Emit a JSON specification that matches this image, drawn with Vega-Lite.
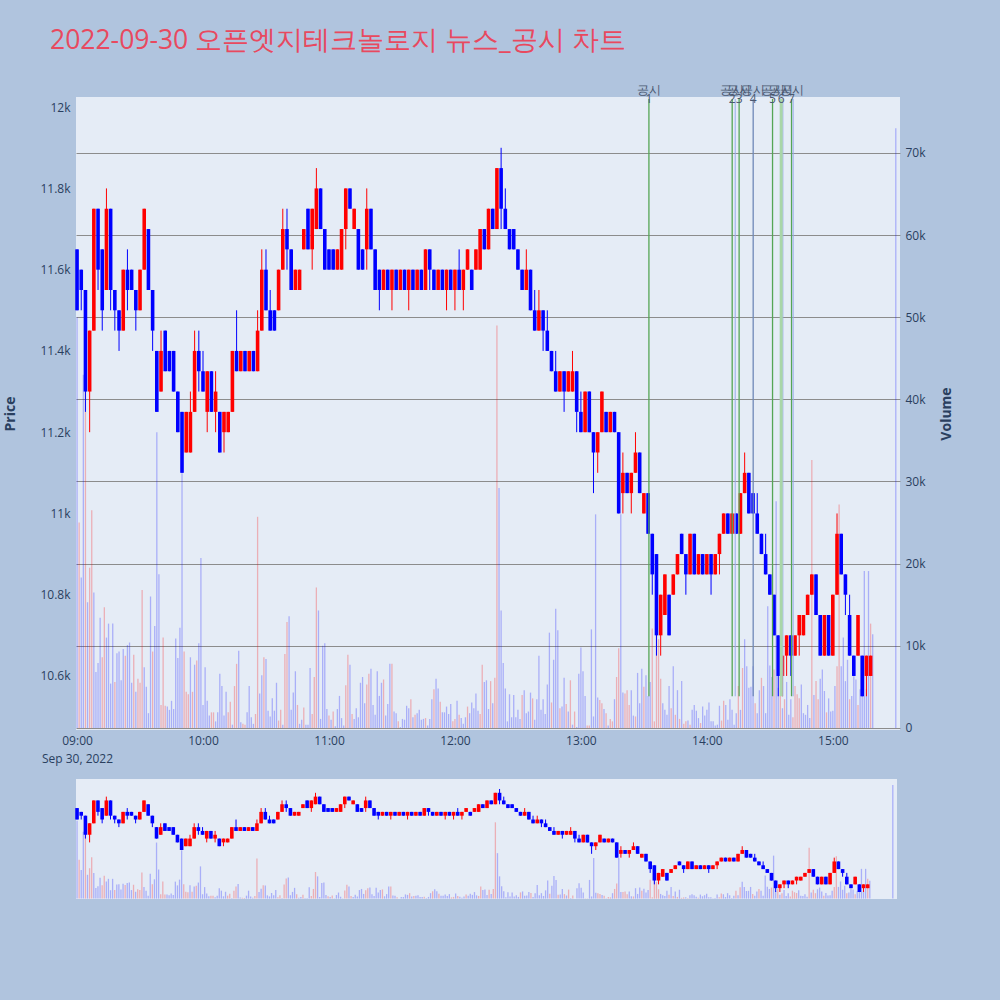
{
"$schema":"https://vega.github.io/schema/vega-lite/v6.json",
"background":"#b0c4de",
"padding":{"left":3,"top":27,"right":47,"bottom":101},
"spacing":15,
"config":{"view":{"stroke":null,"fill":"#e5ecf6"},"axis":{"domain":false,"ticks":false,"labelFont":"Open Sans","labelFontSize":12,"labelColor":"#2a3f5f","titleFont":"Open Sans","titleColor":"#2a3f5f"}},
"resolve":{"scale":{"x":"independent"}},
"datasets":{
"c":[
{"t":"2022-09-30T09:00","o":11650,"h":11650,"l":11500,"c":11500},{"t":"2022-09-30T09:02","o":11600,"h":11600,"l":11500,"c":11550},{"t":"2022-09-30T09:04","o":11550,"h":11550,"l":11250,"c":11300},{"t":"2022-09-30T09:06","o":11300,"h":11450,"l":11200,"c":11450},{"t":"2022-09-30T09:08","o":11450,"h":11750,"l":11450,"c":11750},{"t":"2022-09-30T09:10","o":11750,"h":11750,"l":11550,"c":11600},{"t":"2022-09-30T09:12","o":11650,"h":11650,"l":11450,"c":11500},{"t":"2022-09-30T09:14","o":11550,"h":11800,"l":11550,"c":11750},{"t":"2022-09-30T09:16","o":11750,"h":11750,"l":11500,"c":11550},{"t":"2022-09-30T09:18","o":11550,"h":11550,"l":11450,"c":11500},
{"t":"2022-09-30T09:20","o":11500,"h":11500,"l":11400,"c":11450},{"t":"2022-09-30T09:22","o":11450,"h":11600,"l":11450,"c":11600},{"t":"2022-09-30T09:24","o":11600,"h":11650,"l":11500,"c":11550},{"t":"2022-09-30T09:26","o":11600,"h":11600,"l":11550,"c":11550},{"t":"2022-09-30T09:28","o":11550,"h":11550,"l":11450,"c":11500},{"t":"2022-09-30T09:30","o":11500,"h":11600,"l":11500,"c":11600},{"t":"2022-09-30T09:32","o":11600,"h":11750,"l":11600,"c":11750},{"t":"2022-09-30T09:34","o":11700,"h":11700,"l":11550,"c":11550},{"t":"2022-09-30T09:36","o":11550,"h":11550,"l":11400,"c":11450},{"t":"2022-09-30T09:38","o":11400,"h":11400,"l":11250,"c":11250},
{"t":"2022-09-30T09:40","o":11300,"h":11450,"l":11300,"c":11400},{"t":"2022-09-30T09:42","o":11450,"h":11450,"l":11350,"c":11350},{"t":"2022-09-30T09:44","o":11400,"h":11400,"l":11350,"c":11350},{"t":"2022-09-30T09:46","o":11400,"h":11400,"l":11300,"c":11300},{"t":"2022-09-30T09:48","o":11300,"h":11300,"l":11200,"c":11200},{"t":"2022-09-30T09:50","o":11250,"h":11250,"l":11100,"c":11100},{"t":"2022-09-30T09:52","o":11150,"h":11250,"l":11150,"c":11250},{"t":"2022-09-30T09:54","o":11150,"h":11300,"l":11150,"c":11250},{"t":"2022-09-30T09:56","o":11250,"h":11450,"l":11250,"c":11400},{"t":"2022-09-30T09:58","o":11400,"h":11450,"l":11300,"c":11350},
{"t":"2022-09-30T10:00","o":11350,"h":11400,"l":11300,"c":11300},{"t":"2022-09-30T10:02","o":11250,"h":11350,"l":11200,"c":11350},{"t":"2022-09-30T10:04","o":11350,"h":11350,"l":11250,"c":11250},{"t":"2022-09-30T10:06","o":11250,"h":11350,"l":11200,"c":11300},{"t":"2022-09-30T10:08","o":11250,"h":11250,"l":11150,"c":11150},{"t":"2022-09-30T10:10","o":11200,"h":11250,"l":11150,"c":11250},{"t":"2022-09-30T10:12","o":11200,"h":11250,"l":11200,"c":11250},{"t":"2022-09-30T10:14","o":11250,"h":11400,"l":11250,"c":11400},{"t":"2022-09-30T10:16","o":11400,"h":11500,"l":11350,"c":11350},{"t":"2022-09-30T10:18","o":11350,"h":11400,"l":11350,"c":11400},
{"t":"2022-09-30T10:20","o":11400,"h":11400,"l":11350,"c":11350},{"t":"2022-09-30T10:22","o":11350,"h":11400,"l":11350,"c":11400},{"t":"2022-09-30T10:24","o":11400,"h":11400,"l":11350,"c":11350},{"t":"2022-09-30T10:26","o":11350,"h":11500,"l":11350,"c":11450},{"t":"2022-09-30T10:28","o":11450,"h":11650,"l":11450,"c":11600},{"t":"2022-09-30T10:30","o":11600,"h":11650,"l":11500,"c":11500},{"t":"2022-09-30T10:32","o":11500,"h":11550,"l":11450,"c":11450},{"t":"2022-09-30T10:34","o":11500,"h":11500,"l":11450,"c":11450},{"t":"2022-09-30T10:36","o":11500,"h":11600,"l":11500,"c":11600},{"t":"2022-09-30T10:38","o":11600,"h":11750,"l":11600,"c":11700},
{"t":"2022-09-30T10:40","o":11700,"h":11750,"l":11600,"c":11650},{"t":"2022-09-30T10:42","o":11650,"h":11650,"l":11550,"c":11550},{"t":"2022-09-30T10:44","o":11550,"h":11600,"l":11550,"c":11600},{"t":"2022-09-30T10:46","o":11550,"h":11600,"l":11550,"c":11600},{"t":"2022-09-30T10:48","o":11650,"h":11700,"l":11650,"c":11700},{"t":"2022-09-30T10:50","o":11750,"h":11750,"l":11650,"c":11650},{"t":"2022-09-30T10:52","o":11650,"h":11750,"l":11600,"c":11750},{"t":"2022-09-30T10:54","o":11700,"h":11850,"l":11700,"c":11800},{"t":"2022-09-30T10:56","o":11800,"h":11800,"l":11700,"c":11700},{"t":"2022-09-30T10:58","o":11700,"h":11700,"l":11600,"c":11600},
{"t":"2022-09-30T11:00","o":11650,"h":11650,"l":11600,"c":11600},{"t":"2022-09-30T11:02","o":11650,"h":11650,"l":11600,"c":11600},{"t":"2022-09-30T11:04","o":11600,"h":11650,"l":11600,"c":11650},{"t":"2022-09-30T11:06","o":11600,"h":11700,"l":11600,"c":11700},{"t":"2022-09-30T11:08","o":11700,"h":11800,"l":11650,"c":11800},{"t":"2022-09-30T11:10","o":11800,"h":11800,"l":11750,"c":11750},{"t":"2022-09-30T11:12","o":11700,"h":11750,"l":11700,"c":11750},{"t":"2022-09-30T11:14","o":11700,"h":11700,"l":11600,"c":11600},{"t":"2022-09-30T11:16","o":11650,"h":11650,"l":11600,"c":11600},{"t":"2022-09-30T11:18","o":11650,"h":11800,"l":11600,"c":11750},
{"t":"2022-09-30T11:20","o":11750,"h":11750,"l":11650,"c":11650},{"t":"2022-09-30T11:22","o":11650,"h":11650,"l":11550,"c":11550},{"t":"2022-09-30T11:24","o":11600,"h":11600,"l":11500,"c":11550},{"t":"2022-09-30T11:26","o":11550,"h":11600,"l":11550,"c":11600},{"t":"2022-09-30T11:28","o":11600,"h":11600,"l":11550,"c":11550},{"t":"2022-09-30T11:30","o":11550,"h":11600,"l":11500,"c":11600},{"t":"2022-09-30T11:32","o":11600,"h":11600,"l":11550,"c":11550},{"t":"2022-09-30T11:34","o":11550,"h":11600,"l":11550,"c":11600},{"t":"2022-09-30T11:36","o":11600,"h":11600,"l":11550,"c":11550},{"t":"2022-09-30T11:38","o":11550,"h":11600,"l":11500,"c":11600},
{"t":"2022-09-30T11:40","o":11600,"h":11600,"l":11550,"c":11550},{"t":"2022-09-30T11:42","o":11550,"h":11600,"l":11550,"c":11600},{"t":"2022-09-30T11:44","o":11600,"h":11600,"l":11550,"c":11550},{"t":"2022-09-30T11:46","o":11550,"h":11650,"l":11550,"c":11650},{"t":"2022-09-30T11:48","o":11650,"h":11650,"l":11550,"c":11600},{"t":"2022-09-30T11:50","o":11600,"h":11600,"l":11550,"c":11550},{"t":"2022-09-30T11:52","o":11550,"h":11600,"l":11550,"c":11600},{"t":"2022-09-30T11:54","o":11600,"h":11600,"l":11550,"c":11550},{"t":"2022-09-30T11:56","o":11550,"h":11600,"l":11500,"c":11600},{"t":"2022-09-30T11:58","o":11600,"h":11600,"l":11550,"c":11550},
{"t":"2022-09-30T12:00","o":11550,"h":11600,"l":11500,"c":11600},{"t":"2022-09-30T12:02","o":11600,"h":11650,"l":11550,"c":11550},{"t":"2022-09-30T12:04","o":11550,"h":11600,"l":11500,"c":11600},{"t":"2022-09-30T12:06","o":11600,"h":11650,"l":11600,"c":11650},{"t":"2022-09-30T12:08","o":11600,"h":11600,"l":11550,"c":11550},{"t":"2022-09-30T12:10","o":11600,"h":11650,"l":11600,"c":11650},{"t":"2022-09-30T12:12","o":11600,"h":11700,"l":11600,"c":11700},{"t":"2022-09-30T12:14","o":11700,"h":11700,"l":11650,"c":11650},{"t":"2022-09-30T12:16","o":11650,"h":11750,"l":11650,"c":11750},{"t":"2022-09-30T12:18","o":11750,"h":11750,"l":11700,"c":11700},
{"t":"2022-09-30T12:20","o":11700,"h":11850,"l":11700,"c":11850},{"t":"2022-09-30T12:22","o":11850,"h":11900,"l":11700,"c":11750},{"t":"2022-09-30T12:24","o":11750,"h":11800,"l":11700,"c":11700},{"t":"2022-09-30T12:26","o":11700,"h":11700,"l":11650,"c":11650},{"t":"2022-09-30T12:28","o":11700,"h":11700,"l":11650,"c":11650},{"t":"2022-09-30T12:30","o":11650,"h":11650,"l":11600,"c":11600},{"t":"2022-09-30T12:32","o":11600,"h":11600,"l":11550,"c":11550},{"t":"2022-09-30T12:34","o":11550,"h":11650,"l":11550,"c":11600},{"t":"2022-09-30T12:36","o":11600,"h":11600,"l":11500,"c":11500},{"t":"2022-09-30T12:38","o":11500,"h":11550,"l":11450,"c":11450},
{"t":"2022-09-30T12:40","o":11450,"h":11550,"l":11450,"c":11500},{"t":"2022-09-30T12:42","o":11500,"h":11500,"l":11400,"c":11450},{"t":"2022-09-30T12:44","o":11450,"h":11500,"l":11400,"c":11400},{"t":"2022-09-30T12:46","o":11400,"h":11400,"l":11350,"c":11350},{"t":"2022-09-30T12:48","o":11350,"h":11400,"l":11300,"c":11300},{"t":"2022-09-30T12:50","o":11300,"h":11350,"l":11300,"c":11350},{"t":"2022-09-30T12:52","o":11350,"h":11350,"l":11250,"c":11300},{"t":"2022-09-30T12:54","o":11300,"h":11350,"l":11300,"c":11350},{"t":"2022-09-30T12:56","o":11300,"h":11400,"l":11300,"c":11350},{"t":"2022-09-30T12:58","o":11350,"h":11350,"l":11200,"c":11250},
{"t":"2022-09-30T13:00","o":11250,"h":11300,"l":11200,"c":11200},{"t":"2022-09-30T13:02","o":11200,"h":11300,"l":11200,"c":11300},{"t":"2022-09-30T13:04","o":11300,"h":11300,"l":11200,"c":11200},{"t":"2022-09-30T13:06","o":11200,"h":11200,"l":11050,"c":11150},{"t":"2022-09-30T13:08","o":11150,"h":11200,"l":11100,"c":11200},{"t":"2022-09-30T13:10","o":11200,"h":11300,"l":11200,"c":11300},{"t":"2022-09-30T13:12","o":11250,"h":11250,"l":11200,"c":11200},{"t":"2022-09-30T13:14","o":11200,"h":11250,"l":11200,"c":11250},{"t":"2022-09-30T13:16","o":11250,"h":11250,"l":11200,"c":11200},{"t":"2022-09-30T13:18","o":11200,"h":11200,"l":11000,"c":11000},
{"t":"2022-09-30T13:20","o":11050,"h":11150,"l":11000,"c":11100},{"t":"2022-09-30T13:22","o":11100,"h":11100,"l":11050,"c":11050},{"t":"2022-09-30T13:24","o":11050,"h":11100,"l":11000,"c":11100},{"t":"2022-09-30T13:26","o":11100,"h":11200,"l":11100,"c":11150},{"t":"2022-09-30T13:28","o":11150,"h":11150,"l":11050,"c":11050},{"t":"2022-09-30T13:30","o":11000,"h":11050,"l":11000,"c":11050},{"t":"2022-09-30T13:32","o":11050,"h":11050,"l":10950,"c":10950},{"t":"2022-09-30T13:34","o":10950,"h":10950,"l":10800,"c":10850},{"t":"2022-09-30T13:36","o":10900,"h":10900,"l":10650,"c":10700},{"t":"2022-09-30T13:38","o":10700,"h":10800,"l":10650,"c":10800},
{"t":"2022-09-30T13:40","o":10750,"h":10850,"l":10750,"c":10850},{"t":"2022-09-30T13:42","o":10800,"h":10800,"l":10700,"c":10700},{"t":"2022-09-30T13:44","o":10800,"h":10850,"l":10800,"c":10850},{"t":"2022-09-30T13:46","o":10850,"h":10900,"l":10850,"c":10900},{"t":"2022-09-30T13:48","o":10950,"h":10950,"l":10900,"c":10900},{"t":"2022-09-30T13:50","o":10900,"h":10900,"l":10800,"c":10850},{"t":"2022-09-30T13:52","o":10850,"h":10950,"l":10850,"c":10950},{"t":"2022-09-30T13:54","o":10950,"h":10950,"l":10850,"c":10850},{"t":"2022-09-30T13:56","o":10850,"h":10900,"l":10850,"c":10900},{"t":"2022-09-30T13:58","o":10900,"h":10900,"l":10850,"c":10850},
{"t":"2022-09-30T14:00","o":10850,"h":10900,"l":10850,"c":10900},{"t":"2022-09-30T14:02","o":10900,"h":10900,"l":10800,"c":10850},{"t":"2022-09-30T14:04","o":10850,"h":10900,"l":10850,"c":10900},{"t":"2022-09-30T14:06","o":10900,"h":10950,"l":10850,"c":10950},{"t":"2022-09-30T14:08","o":10950,"h":11000,"l":10950,"c":11000},{"t":"2022-09-30T14:10","o":11000,"h":11000,"l":10950,"c":10950},{"t":"2022-09-30T14:12","o":10950,"h":11000,"l":10950,"c":11000},{"t":"2022-09-30T14:14","o":11000,"h":11000,"l":10950,"c":10950},{"t":"2022-09-30T14:16","o":10950,"h":11050,"l":10950,"c":11050},{"t":"2022-09-30T14:18","o":11050,"h":11150,"l":11050,"c":11100},
{"t":"2022-09-30T14:20","o":11100,"h":11100,"l":11000,"c":11000},{"t":"2022-09-30T14:22","o":11050,"h":11050,"l":11000,"c":11000},{"t":"2022-09-30T14:24","o":11000,"h":11050,"l":10950,"c":10950},{"t":"2022-09-30T14:26","o":10950,"h":10950,"l":10900,"c":10900},{"t":"2022-09-30T14:28","o":10900,"h":10950,"l":10850,"c":10850},{"t":"2022-09-30T14:30","o":10850,"h":10850,"l":10800,"c":10800},{"t":"2022-09-30T14:32","o":10800,"h":10800,"l":10700,"c":10700},{"t":"2022-09-30T14:34","o":10700,"h":10700,"l":10550,"c":10600},{"t":"2022-09-30T14:36","o":10600,"h":10650,"l":10550,"c":10650},{"t":"2022-09-30T14:38","o":10650,"h":10700,"l":10600,"c":10700},
{"t":"2022-09-30T14:40","o":10700,"h":10700,"l":10600,"c":10650},{"t":"2022-09-30T14:42","o":10650,"h":10700,"l":10650,"c":10700},{"t":"2022-09-30T14:44","o":10700,"h":10750,"l":10650,"c":10750},{"t":"2022-09-30T14:46","o":10700,"h":10750,"l":10700,"c":10750},{"t":"2022-09-30T14:48","o":10750,"h":10800,"l":10750,"c":10800},{"t":"2022-09-30T14:50","o":10800,"h":10850,"l":10800,"c":10850},{"t":"2022-09-30T14:52","o":10850,"h":10850,"l":10750,"c":10750},{"t":"2022-09-30T14:54","o":10750,"h":10750,"l":10650,"c":10650},{"t":"2022-09-30T14:56","o":10650,"h":10750,"l":10650,"c":10750},{"t":"2022-09-30T14:58","o":10750,"h":10750,"l":10650,"c":10650},
{"t":"2022-09-30T15:00","o":10650,"h":10800,"l":10650,"c":10800},{"t":"2022-09-30T15:02","o":10800,"h":11000,"l":10800,"c":10950},{"t":"2022-09-30T15:04","o":10950,"h":10950,"l":10850,"c":10850},{"t":"2022-09-30T15:06","o":10850,"h":10850,"l":10750,"c":10800},{"t":"2022-09-30T15:08","o":10750,"h":10800,"l":10650,"c":10650},{"t":"2022-09-30T15:10","o":10650,"h":10650,"l":10600,"c":10600},{"t":"2022-09-30T15:12","o":10650,"h":10750,"l":10650,"c":10750},{"t":"2022-09-30T15:14","o":10650,"h":10650,"l":10550,"c":10550},{"t":"2022-09-30T15:16","o":10600,"h":10650,"l":10550,"c":10650},{"t":"2022-09-30T15:18","o":10600,"h":10650,"l":10600,"c":10650},
{"t":"2022-09-30T15:30","o":10550,"h":10550,"l":10550,"c":10550}
],
"v":[
{"t":"2022-09-30T09:00","v":50000,"d":"d"},{"t":"2022-09-30T09:01","v":25000,"d":"u"},{"t":"2022-09-30T09:02","v":18300,"d":"d"},{"t":"2022-09-30T09:03","v":43000,"d":"d"},{"t":"2022-09-30T09:04","v":42000,"d":"u"},{"t":"2022-09-30T09:05","v":15300,"d":"d"},{"t":"2022-09-30T09:06","v":19500,"d":"u"},{"t":"2022-09-30T09:07","v":26500,"d":"u"},{"t":"2022-09-30T09:08","v":16500,"d":"d"},{"t":"2022-09-30T09:09","v":6800,"d":"d"},
{"t":"2022-09-30T09:10","v":7900,"d":"d"},{"t":"2022-09-30T09:11","v":13400,"d":"d"},{"t":"2022-09-30T09:12","v":8600,"d":"u"},{"t":"2022-09-30T09:13","v":14700,"d":"u"},{"t":"2022-09-30T09:14","v":11000,"d":"d"},{"t":"2022-09-30T09:15","v":12700,"d":"d"},{"t":"2022-09-30T09:16","v":5400,"d":"d"},{"t":"2022-09-30T09:17","v":12700,"d":"d"},{"t":"2022-09-30T09:18","v":5600,"d":"u"},{"t":"2022-09-30T09:19","v":9100,"d":"d"},
{"t":"2022-09-30T09:20","v":9300,"d":"d"},{"t":"2022-09-30T09:21","v":5800,"d":"d"},{"t":"2022-09-30T09:22","v":9600,"d":"d"},{"t":"2022-09-30T09:23","v":8800,"d":"u"},{"t":"2022-09-30T09:24","v":10100,"d":"d"},{"t":"2022-09-30T09:25","v":10400,"d":"d"},{"t":"2022-09-30T09:26","v":5500,"d":"d"},{"t":"2022-09-30T09:27","v":8900,"d":"u"},{"t":"2022-09-30T09:28","v":4400,"d":"d"},{"t":"2022-09-30T09:29","v":6000,"d":"u"},
{"t":"2022-09-30T09:30","v":5500,"d":"u"},{"t":"2022-09-30T09:31","v":16800,"d":"u"},{"t":"2022-09-30T09:32","v":7400,"d":"d"},{"t":"2022-09-30T09:33","v":5000,"d":"d"},{"t":"2022-09-30T09:34","v":1800,"d":"d"},{"t":"2022-09-30T09:35","v":16000,"d":"d"},{"t":"2022-09-30T09:36","v":9300,"d":"u"},{"t":"2022-09-30T09:37","v":12400,"d":"d"},{"t":"2022-09-30T09:38","v":36000,"d":"d"},{"t":"2022-09-30T09:39","v":18700,"d":"d"},
{"t":"2022-09-30T09:40","v":2800,"d":"u"},{"t":"2022-09-30T09:41","v":11000,"d":"u"},{"t":"2022-09-30T09:42","v":2700,"d":"u"},{"t":"2022-09-30T09:43","v":2600,"d":"d"},{"t":"2022-09-30T09:44","v":2200,"d":"d"},{"t":"2022-09-30T09:45","v":3300,"d":"d"},{"t":"2022-09-30T09:46","v":2300,"d":"d"},{"t":"2022-09-30T09:47","v":10900,"d":"d"},{"t":"2022-09-30T09:48","v":8500,"d":"d"},{"t":"2022-09-30T09:49","v":12200,"d":"d"},
{"t":"2022-09-30T09:50","v":31000,"d":"d"},{"t":"2022-09-30T09:51","v":9300,"d":"u"},{"t":"2022-09-30T09:52","v":4400,"d":"u"},{"t":"2022-09-30T09:53","v":4100,"d":"u"},{"t":"2022-09-30T09:54","v":8600,"d":"d"},{"t":"2022-09-30T09:55","v":4400,"d":"u"},{"t":"2022-09-30T09:56","v":7700,"d":"d"},{"t":"2022-09-30T09:57","v":8200,"d":"u"},{"t":"2022-09-30T09:58","v":10300,"d":"d"},{"t":"2022-09-30T09:59","v":20700,"d":"d"},
{"t":"2022-09-30T10:00","v":2800,"d":"d"},{"t":"2022-09-30T10:01","v":7400,"d":"d"},{"t":"2022-09-30T10:02","v":3300,"d":"d"},{"t":"2022-09-30T10:03","v":1500,"d":"d"},{"t":"2022-09-30T10:04","v":1900,"d":"u"},{"t":"2022-09-30T10:05","v":1900,"d":"u"},{"t":"2022-09-30T10:06","v":800,"d":"d"},{"t":"2022-09-30T10:07","v":1900,"d":"d"},{"t":"2022-09-30T10:08","v":6600,"d":"d"},{"t":"2022-09-30T10:09","v":5100,"d":"d"},
{"t":"2022-09-30T10:10","v":1500,"d":"d"},{"t":"2022-09-30T10:11","v":4400,"d":"d"},{"t":"2022-09-30T10:12","v":1900,"d":"u"},{"t":"2022-09-30T10:13","v":3200,"d":"u"},{"t":"2022-09-30T10:14","v":400,"d":"d"},{"t":"2022-09-30T10:15","v":5100,"d":"u"},{"t":"2022-09-30T10:16","v":7800,"d":"u"},{"t":"2022-09-30T10:17","v":9400,"d":"d"},{"t":"2022-09-30T10:18","v":700,"d":"d"},{"t":"2022-09-30T10:19","v":500,"d":"u"},
{"t":"2022-09-30T10:20","v":400,"d":"u"},{"t":"2022-09-30T10:21","v":1900,"d":"d"},{"t":"2022-09-30T10:22","v":5100,"d":"d"},{"t":"2022-09-30T10:23","v":1300,"d":"d"},{"t":"2022-09-30T10:24","v":500,"d":"d"},{"t":"2022-09-30T10:25","v":1700,"d":"u"},{"t":"2022-09-30T10:26","v":25700,"d":"u"},{"t":"2022-09-30T10:27","v":4200,"d":"d"},{"t":"2022-09-30T10:28","v":6400,"d":"d"},{"t":"2022-09-30T10:29","v":8600,"d":"u"},
{"t":"2022-09-30T10:30","v":8400,"d":"d"},{"t":"2022-09-30T10:31","v":2100,"d":"d"},{"t":"2022-09-30T10:32","v":1400,"d":"d"},{"t":"2022-09-30T10:33","v":3600,"d":"d"},{"t":"2022-09-30T10:34","v":2100,"d":"d"},{"t":"2022-09-30T10:35","v":5500,"d":"d"},{"t":"2022-09-30T10:36","v":900,"d":"u"},{"t":"2022-09-30T10:37","v":2200,"d":"u"},{"t":"2022-09-30T10:38","v":400,"d":"d"},{"t":"2022-09-30T10:39","v":9000,"d":"u"},
{"t":"2022-09-30T10:40","v":12900,"d":"u"},{"t":"2022-09-30T10:41","v":13600,"d":"d"},{"t":"2022-09-30T10:42","v":2200,"d":"d"},{"t":"2022-09-30T10:43","v":4300,"d":"d"},{"t":"2022-09-30T10:44","v":6900,"d":"d"},{"t":"2022-09-30T10:45","v":2800,"d":"u"},{"t":"2022-09-30T10:46","v":500,"d":"d"},{"t":"2022-09-30T10:47","v":1000,"d":"d"},{"t":"2022-09-30T10:48","v":2500,"d":"u"},{"t":"2022-09-30T10:49","v":400,"d":"d"},
{"t":"2022-09-30T10:50","v":400,"d":"d"},{"t":"2022-09-30T10:51","v":7300,"d":"d"},{"t":"2022-09-30T10:52","v":1700,"d":"u"},{"t":"2022-09-30T10:53","v":6200,"d":"u"},{"t":"2022-09-30T10:54","v":17100,"d":"u"},{"t":"2022-09-30T10:55","v":14300,"d":"d"},{"t":"2022-09-30T10:56","v":1100,"d":"d"},{"t":"2022-09-30T10:57","v":10000,"d":"d"},{"t":"2022-09-30T10:58","v":10300,"d":"d"},{"t":"2022-09-30T10:59","v":2300,"d":"d"},
{"t":"2022-09-30T11:00","v":1500,"d":"u"},{"t":"2022-09-30T11:01","v":1000,"d":"d"},{"t":"2022-09-30T11:02","v":2000,"d":"u"},{"t":"2022-09-30T11:03","v":200,"d":"d"},{"t":"2022-09-30T11:04","v":2300,"d":"d"},{"t":"2022-09-30T11:05","v":3900,"d":"d"},{"t":"2022-09-30T11:06","v":1200,"d":"d"},{"t":"2022-09-30T11:07","v":300,"d":"d"},{"t":"2022-09-30T11:08","v":5200,"d":"u"},{"t":"2022-09-30T11:09","v":8900,"d":"u"},
{"t":"2022-09-30T11:10","v":7700,"d":"d"},{"t":"2022-09-30T11:11","v":1700,"d":"u"},{"t":"2022-09-30T11:12","v":1100,"d":"d"},{"t":"2022-09-30T11:13","v":2400,"d":"d"},{"t":"2022-09-30T11:14","v":1300,"d":"d"},{"t":"2022-09-30T11:15","v":5500,"d":"d"},{"t":"2022-09-30T11:16","v":6200,"d":"d"},{"t":"2022-09-30T11:17","v":3000,"d":"d"},{"t":"2022-09-30T11:18","v":5300,"d":"u"},{"t":"2022-09-30T11:19","v":6600,"d":"u"},
{"t":"2022-09-30T11:20","v":7200,"d":"d"},{"t":"2022-09-30T11:21","v":2800,"d":"d"},{"t":"2022-09-30T11:22","v":1600,"d":"d"},{"t":"2022-09-30T11:23","v":6900,"d":"d"},{"t":"2022-09-30T11:24","v":3900,"d":"d"},{"t":"2022-09-30T11:25","v":5500,"d":"d"},{"t":"2022-09-30T11:26","v":5900,"d":"u"},{"t":"2022-09-30T11:27","v":1500,"d":"d"},{"t":"2022-09-30T11:28","v":2900,"d":"d"},{"t":"2022-09-30T11:29","v":7800,"d":"d"},
{"t":"2022-09-30T11:30","v":7800,"d":"u"},{"t":"2022-09-30T11:31","v":2000,"d":"d"},{"t":"2022-09-30T11:32","v":1800,"d":"d"},{"t":"2022-09-30T11:33","v":800,"d":"u"},{"t":"2022-09-30T11:34","v":100,"d":"d"},{"t":"2022-09-30T11:35","v":1100,"d":"d"},{"t":"2022-09-30T11:36","v":1000,"d":"d"},{"t":"2022-09-30T11:37","v":2700,"d":"d"},{"t":"2022-09-30T11:38","v":2400,"d":"d"},{"t":"2022-09-30T11:39","v":3500,"d":"u"},
{"t":"2022-09-30T11:40","v":1300,"d":"d"},{"t":"2022-09-30T11:41","v":1600,"d":"u"},{"t":"2022-09-30T11:42","v":1800,"d":"d"},{"t":"2022-09-30T11:43","v":2200,"d":"d"},{"t":"2022-09-30T11:44","v":1000,"d":"d"},{"t":"2022-09-30T11:45","v":1100,"d":"d"},{"t":"2022-09-30T11:46","v":1200,"d":"u"},{"t":"2022-09-30T11:47","v":300,"d":"d"},{"t":"2022-09-30T11:48","v":1100,"d":"d"},{"t":"2022-09-30T11:49","v":3500,"d":"d"},
{"t":"2022-09-30T11:50","v":4700,"d":"u"},{"t":"2022-09-30T11:51","v":6000,"d":"d"},{"t":"2022-09-30T11:52","v":4800,"d":"d"},{"t":"2022-09-30T11:53","v":3200,"d":"u"},{"t":"2022-09-30T11:54","v":1900,"d":"d"},{"t":"2022-09-30T11:55","v":1900,"d":"d"},{"t":"2022-09-30T11:56","v":2600,"d":"d"},{"t":"2022-09-30T11:57","v":1700,"d":"d"},{"t":"2022-09-30T11:58","v":2900,"d":"d"},{"t":"2022-09-30T11:59","v":800,"d":"u"},
{"t":"2022-09-30T12:00","v":1100,"d":"u"},{"t":"2022-09-30T12:01","v":3300,"d":"d"},{"t":"2022-09-30T12:02","v":1600,"d":"u"},{"t":"2022-09-30T12:03","v":1200,"d":"d"},{"t":"2022-09-30T12:04","v":500,"d":"d"},{"t":"2022-09-30T12:05","v":1300,"d":"d"},{"t":"2022-09-30T12:06","v":2600,"d":"u"},{"t":"2022-09-30T12:07","v":1800,"d":"d"},{"t":"2022-09-30T12:08","v":3100,"d":"d"},{"t":"2022-09-30T12:09","v":2400,"d":"d"},
{"t":"2022-09-30T12:10","v":4200,"d":"d"},{"t":"2022-09-30T12:11","v":2100,"d":"d"},{"t":"2022-09-30T12:12","v":1700,"d":"u"},{"t":"2022-09-30T12:13","v":7700,"d":"u"},{"t":"2022-09-30T12:14","v":5600,"d":"d"},{"t":"2022-09-30T12:15","v":5800,"d":"d"},{"t":"2022-09-30T12:16","v":2300,"d":"d"},{"t":"2022-09-30T12:17","v":5700,"d":"u"},{"t":"2022-09-30T12:18","v":3000,"d":"d"},{"t":"2022-09-30T12:19","v":6100,"d":"u"},
{"t":"2022-09-30T12:20","v":49000,"d":"u"},{"t":"2022-09-30T12:21","v":29200,"d":"d"},{"t":"2022-09-30T12:22","v":14300,"d":"d"},{"t":"2022-09-30T12:23","v":7900,"d":"d"},{"t":"2022-09-30T12:24","v":4800,"d":"d"},{"t":"2022-09-30T12:25","v":800,"d":"d"},{"t":"2022-09-30T12:26","v":4100,"d":"d"},{"t":"2022-09-30T12:27","v":1300,"d":"d"},{"t":"2022-09-30T12:28","v":4000,"d":"d"},{"t":"2022-09-30T12:29","v":1300,"d":"d"},
{"t":"2022-09-30T12:30","v":2200,"d":"d"},{"t":"2022-09-30T12:31","v":1100,"d":"d"},{"t":"2022-09-30T12:32","v":4000,"d":"u"},{"t":"2022-09-30T12:33","v":4600,"d":"d"},{"t":"2022-09-30T12:34","v":1800,"d":"d"},{"t":"2022-09-30T12:35","v":2000,"d":"d"},{"t":"2022-09-30T12:36","v":4300,"d":"d"},{"t":"2022-09-30T12:37","v":3600,"d":"u"},{"t":"2022-09-30T12:38","v":1000,"d":"d"},{"t":"2022-09-30T12:39","v":3500,"d":"d"},
{"t":"2022-09-30T12:40","v":8800,"d":"d"},{"t":"2022-09-30T12:41","v":2200,"d":"d"},{"t":"2022-09-30T12:42","v":3500,"d":"d"},{"t":"2022-09-30T12:43","v":1700,"d":"d"},{"t":"2022-09-30T12:44","v":5300,"d":"d"},{"t":"2022-09-30T12:45","v":11600,"d":"d"},{"t":"2022-09-30T12:46","v":3100,"d":"u"},{"t":"2022-09-30T12:47","v":8300,"d":"d"},{"t":"2022-09-30T12:48","v":14500,"d":"d"},{"t":"2022-09-30T12:49","v":11900,"d":"d"},
{"t":"2022-09-30T12:50","v":2400,"d":"u"},{"t":"2022-09-30T12:51","v":2600,"d":"d"},{"t":"2022-09-30T12:52","v":6100,"d":"d"},{"t":"2022-09-30T12:53","v":2900,"d":"u"},{"t":"2022-09-30T12:54","v":2000,"d":"d"},{"t":"2022-09-30T12:55","v":5800,"d":"u"},{"t":"2022-09-30T12:56","v":400,"d":"d"},{"t":"2022-09-30T12:57","v":2000,"d":"u"},{"t":"2022-09-30T12:58","v":100,"d":"d"},{"t":"2022-09-30T12:59","v":6600,"d":"d"},
{"t":"2022-09-30T13:00","v":9800,"d":"d"},{"t":"2022-09-30T13:01","v":6900,"d":"d"},{"t":"2022-09-30T13:02","v":3900,"d":"d"},{"t":"2022-09-30T13:03","v":300,"d":"u"},{"t":"2022-09-30T13:04","v":300,"d":"u"},{"t":"2022-09-30T13:05","v":12000,"d":"d"},{"t":"2022-09-30T13:06","v":1400,"d":"d"},{"t":"2022-09-30T13:07","v":26000,"d":"d"},{"t":"2022-09-30T13:08","v":3700,"d":"d"},{"t":"2022-09-30T13:09","v":3400,"d":"u"},
{"t":"2022-09-30T13:10","v":3000,"d":"u"},{"t":"2022-09-30T13:11","v":2300,"d":"d"},{"t":"2022-09-30T13:12","v":1800,"d":"u"},{"t":"2022-09-30T13:13","v":300,"d":"d"},{"t":"2022-09-30T13:14","v":1100,"d":"u"},{"t":"2022-09-30T13:15","v":800,"d":"u"},{"t":"2022-09-30T13:16","v":3500,"d":"d"},{"t":"2022-09-30T13:17","v":6200,"d":"u"},{"t":"2022-09-30T13:18","v":9700,"d":"u"},{"t":"2022-09-30T13:19","v":26000,"d":"d"},
{"t":"2022-09-30T13:20","v":4300,"d":"d"},{"t":"2022-09-30T13:21","v":4200,"d":"u"},{"t":"2022-09-30T13:22","v":4600,"d":"u"},{"t":"2022-09-30T13:23","v":2800,"d":"u"},{"t":"2022-09-30T13:24","v":4600,"d":"d"},{"t":"2022-09-30T13:25","v":1500,"d":"d"},{"t":"2022-09-30T13:26","v":1400,"d":"u"},{"t":"2022-09-30T13:27","v":6700,"d":"d"},{"t":"2022-09-30T13:28","v":3000,"d":"d"},{"t":"2022-09-30T13:29","v":7200,"d":"d"},
{"t":"2022-09-30T13:30","v":5000,"d":"u"},{"t":"2022-09-30T13:31","v":6400,"d":"d"},{"t":"2022-09-30T13:32","v":3900,"d":"d"},{"t":"2022-09-30T13:33","v":5600,"d":"d"},{"t":"2022-09-30T13:34","v":12100,"d":"u"},{"t":"2022-09-30T13:35","v":800,"d":"u"},{"t":"2022-09-30T13:36","v":11600,"d":"u"},{"t":"2022-09-30T13:37","v":10800,"d":"u"},{"t":"2022-09-30T13:38","v":6000,"d":"u"},{"t":"2022-09-30T13:39","v":3000,"d":"d"},
{"t":"2022-09-30T13:40","v":2200,"d":"d"},{"t":"2022-09-30T13:41","v":1600,"d":"d"},{"t":"2022-09-30T13:42","v":5100,"d":"d"},{"t":"2022-09-30T13:43","v":2400,"d":"u"},{"t":"2022-09-30T13:44","v":7500,"d":"d"},{"t":"2022-09-30T13:45","v":1600,"d":"u"},{"t":"2022-09-30T13:46","v":4600,"d":"d"},{"t":"2022-09-30T13:47","v":1100,"d":"u"},{"t":"2022-09-30T13:48","v":5700,"d":"d"},{"t":"2022-09-30T13:49","v":500,"d":"u"},
{"t":"2022-09-30T13:50","v":800,"d":"u"},{"t":"2022-09-30T13:51","v":900,"d":"d"},{"t":"2022-09-30T13:52","v":400,"d":"u"},{"t":"2022-09-30T13:53","v":2200,"d":"d"},{"t":"2022-09-30T13:54","v":2800,"d":"d"},{"t":"2022-09-30T13:55","v":2100,"d":"d"},{"t":"2022-09-30T13:56","v":1200,"d":"d"},{"t":"2022-09-30T13:57","v":600,"d":"u"},{"t":"2022-09-30T13:58","v":2600,"d":"d"},{"t":"2022-09-30T13:59","v":1500,"d":"d"},
{"t":"2022-09-30T14:00","v":2200,"d":"d"},{"t":"2022-09-30T14:01","v":3100,"d":"d"},{"t":"2022-09-30T14:02","v":800,"d":"d"},{"t":"2022-09-30T14:03","v":800,"d":"d"},{"t":"2022-09-30T14:04","v":300,"d":"d"},{"t":"2022-09-30T14:05","v":400,"d":"d"},{"t":"2022-09-30T14:06","v":2700,"d":"d"},{"t":"2022-09-30T14:07","v":900,"d":"u"},{"t":"2022-09-30T14:08","v":3300,"d":"u"},{"t":"2022-09-30T14:09","v":2800,"d":"d"},
{"t":"2022-09-30T14:10","v":1000,"d":"d"},{"t":"2022-09-30T14:11","v":3500,"d":"d"},{"t":"2022-09-30T14:12","v":2200,"d":"d"},{"t":"2022-09-30T14:13","v":400,"d":"d"},{"t":"2022-09-30T14:14","v":1800,"d":"d"},{"t":"2022-09-30T14:15","v":5100,"d":"u"},{"t":"2022-09-30T14:16","v":2200,"d":"d"},{"t":"2022-09-30T14:17","v":7300,"d":"u"},{"t":"2022-09-30T14:18","v":10800,"d":"d"},{"t":"2022-09-30T14:19","v":7500,"d":"d"},
{"t":"2022-09-30T14:20","v":4900,"d":"d"},{"t":"2022-09-30T14:21","v":5000,"d":"d"},{"t":"2022-09-30T14:22","v":7500,"d":"d"},{"t":"2022-09-30T14:23","v":3000,"d":"u"},{"t":"2022-09-30T14:24","v":1800,"d":"d"},{"t":"2022-09-30T14:25","v":4600,"d":"d"},{"t":"2022-09-30T14:26","v":6100,"d":"u"},{"t":"2022-09-30T14:27","v":5100,"d":"d"},{"t":"2022-09-30T14:28","v":1800,"d":"d"},{"t":"2022-09-30T14:29","v":14800,"d":"d"},
{"t":"2022-09-30T14:30","v":7600,"d":"d"},{"t":"2022-09-30T14:31","v":6200,"d":"d"},{"t":"2022-09-30T14:32","v":7100,"d":"u"},{"t":"2022-09-30T14:33","v":27600,"d":"d"},{"t":"2022-09-30T14:34","v":4900,"d":"d"},{"t":"2022-09-30T14:35","v":6200,"d":"u"},{"t":"2022-09-30T14:36","v":2400,"d":"d"},{"t":"2022-09-30T14:37","v":3500,"d":"u"},{"t":"2022-09-30T14:38","v":5600,"d":"d"},{"t":"2022-09-30T14:39","v":1600,"d":"d"},
{"t":"2022-09-30T14:40","v":3500,"d":"d"},{"t":"2022-09-30T14:41","v":1300,"d":"u"},{"t":"2022-09-30T14:42","v":5100,"d":"u"},{"t":"2022-09-30T14:43","v":4100,"d":"u"},{"t":"2022-09-30T14:44","v":3600,"d":"u"},{"t":"2022-09-30T14:45","v":5300,"d":"d"},{"t":"2022-09-30T14:46","v":1800,"d":"d"},{"t":"2022-09-30T14:47","v":1600,"d":"d"},{"t":"2022-09-30T14:48","v":2800,"d":"d"},{"t":"2022-09-30T14:49","v":1200,"d":"d"},
{"t":"2022-09-30T14:50","v":32600,"d":"u"},{"t":"2022-09-30T14:51","v":4000,"d":"d"},{"t":"2022-09-30T14:52","v":5700,"d":"u"},{"t":"2022-09-30T14:53","v":3500,"d":"u"},{"t":"2022-09-30T14:54","v":6000,"d":"d"},{"t":"2022-09-30T14:55","v":7100,"d":"d"},{"t":"2022-09-30T14:56","v":4500,"d":"d"},{"t":"2022-09-30T14:57","v":1900,"d":"u"},{"t":"2022-09-30T14:58","v":3600,"d":"d"},{"t":"2022-09-30T14:59","v":2000,"d":"d"},
{"t":"2022-09-30T15:00","v":2100,"d":"d"},{"t":"2022-09-30T15:01","v":5100,"d":"d"},{"t":"2022-09-30T15:02","v":7500,"d":"u"},{"t":"2022-09-30T15:03","v":27200,"d":"u"},{"t":"2022-09-30T15:04","v":7500,"d":"d"},{"t":"2022-09-30T15:05","v":11000,"d":"d"},{"t":"2022-09-30T15:06","v":5700,"d":"d"},{"t":"2022-09-30T15:07","v":8300,"d":"d"},{"t":"2022-09-30T15:08","v":3500,"d":"u"},{"t":"2022-09-30T15:09","v":3900,"d":"d"},
{"t":"2022-09-30T15:10","v":6300,"d":"d"},{"t":"2022-09-30T15:11","v":5900,"d":"d"},{"t":"2022-09-30T15:12","v":2800,"d":"u"},{"t":"2022-09-30T15:13","v":4700,"d":"d"},{"t":"2022-09-30T15:14","v":7500,"d":"d"},{"t":"2022-09-30T15:15","v":19100,"d":"d"},{"t":"2022-09-30T15:16","v":4700,"d":"d"},{"t":"2022-09-30T15:17","v":19100,"d":"d"},{"t":"2022-09-30T15:18","v":12700,"d":"u"},{"t":"2022-09-30T15:19","v":11400,"d":"d"},
{"t":"2022-09-30T15:30","v":73000,"d":"d"}
],
"n":[
{"t":"2022-09-30T13:32:24","k":"A","n":"1"},{"t":"2022-09-30T14:12:04","k":"A","n":"2"},{"t":"2022-09-30T14:13:30","k":"B","n":""},{"t":"2022-09-30T14:15:22","k":"A","n":"3"},{"t":"2022-09-30T14:22:04","k":"C","n":"4"},{"t":"2022-09-30T14:31:17","k":"A","n":"5"},{"t":"2022-09-30T14:35:24","k":"D","n":"6"},{"t":"2022-09-30T14:36:12","k":"B","n":""},{"t":"2022-09-30T14:40:20","k":"A","n":"7"},{"t":"2022-09-30T14:41:06","k":"B","n":""}
]
},
"vconcat":[
{
"width":824,"height":633,
"title":{"text":"2022-09-30 오픈엣지테크놀로지 뉴스_공시 차트","anchor":"start","frame":"group","dx":-26,"offset":30,"fontSize":26.5,"font":"Open Sans","fontWeight":"normal","color":"#e8495f"},
"layer":[
{"data":{"name":"v"},
"mark":{"type":"bar","width":1.3,"opacity":0.26},
"encoding":{
"x":{"field":"t","type":"temporal","scale":{"domain":[{"year":2022,"month":9,"date":30,"hours":8,"minutes":59,"seconds":30},{"year":2022,"month":9,"date":30,"hours":15,"minutes":32}],"padding":0},"axis":{"format":"%H:%M","values":[{"year":2022,"month":9,"date":30,"hours":9},{"year":2022,"month":9,"date":30,"hours":10},{"year":2022,"month":9,"date":30,"hours":11},{"year":2022,"month":9,"date":30,"hours":12},{"year":2022,"month":9,"date":30,"hours":13},{"year":2022,"month":9,"date":30,"hours":14},{"year":2022,"month":9,"date":30,"hours":15}],"grid":false,"labelPadding":5,"title":"Sep 30, 2022","titleFontWeight":"normal","titleFontSize":12,"titleX":1,"titleY":28,"titleAlign":"center","titleBaseline":"middle"}},
"y":{"field":"v","type":"quantitative","scale":{"domain":[-250,76800],"nice":false,"zero":false},"axis":{"orient":"right","title":"Volume","values":[0,10000,20000,30000,40000,50000,60000,70000],"labelExpr":"datum.value==0?'0':datum.value/1000+'k'","gridColor":"#8c8c8c","gridWidth":1,"labelPadding":5,"minExtent":30,"maxExtent":30,"titleAngle":270,"titleBaseline":"top","titlePadding":9,"titleFontSize":14,"titleFontWeight":"bold"}},
"color":{"field":"d","type":"nominal","scale":{"domain":["u","d"],"range":["#ff0000","#0000ff"]},"legend":null}
}},
{"data":{"name":"c"},"mark":{"type":"rule","strokeWidth":1},
"encoding":{"x":{"field":"t","type":"temporal"},
"y":{"field":"l","type":"quantitative","scale":{"domain":[10467,12025],"nice":false,"zero":false},"axis":{"orient":"left","title":"Price","values":[10600,10800,11000,11200,11400,11600,11800,12000],"labelExpr":"datum.value/1000+'k'","gridColor":"#ffffff","gridWidth":1,"labelPadding":6,"minExtent":50,"maxExtent":50,"titlePadding":9,"titleFontSize":14,"titleFontWeight":"bold"}},
"y2":{"field":"h"},
"color":{"condition":{"test":"datum.c>datum.o","value":"#ff0000"},"value":"#0000ff"}}},
{"data":{"name":"c"},"mark":{"type":"bar","width":3.6,"minBandSize":2},
"encoding":{"x":{"field":"t","type":"temporal"},
"y":{"field":"o","type":"quantitative","scale":{"domain":[10467,12025],"nice":false,"zero":false},"axis":null},"y2":{"field":"c"},
"color":{"condition":{"test":"datum.c>datum.o","value":"#ff0000"},"value":"#0000ff"}}},
{"data":{"name":"n"},"transform":[{"filter":"datum.k=='A'"}],"mark":{"type":"rule","strokeWidth":1.3,"color":"#55a555"},
"encoding":{"x":{"field":"t","type":"temporal"},"y":{"datum":10550,"type":"quantitative","scale":{"domain":[10467,12025],"nice":false,"zero":false},"axis":null},"y2":{"datum":12020}}},
{"data":{"name":"n"},"transform":[{"filter":"datum.k=='B'"}],"mark":{"type":"rule","strokeWidth":1,"color":"#98acec"},
"encoding":{"x":{"field":"t","type":"temporal"},"y":{"datum":10550,"type":"quantitative","scale":{"domain":[10467,12025],"nice":false,"zero":false},"axis":null},"y2":{"datum":12020}}},
{"data":{"name":"n"},"transform":[{"filter":"datum.k=='C'"}],"mark":{"type":"rule","strokeWidth":1.3,"color":"#6f88b8"},
"encoding":{"x":{"field":"t","type":"temporal"},"y":{"datum":10550,"type":"quantitative","scale":{"domain":[10467,12025],"nice":false,"zero":false},"axis":null},"y2":{"datum":12020}}},
{"data":{"name":"n"},"transform":[{"filter":"datum.k=='D'"}],"mark":{"type":"rule","strokeWidth":3,"color":"#a9d6a9"},
"encoding":{"x":{"field":"t","type":"temporal"},"y":{"datum":10550,"type":"quantitative","scale":{"domain":[10467,12025],"nice":false,"zero":false},"axis":null},"y2":{"datum":12020}}},
{"data":{"name":"n"},"transform":[{"filter":"datum.n!=''"}],
"mark":{"type":"text","fontSize":12,"font":"Open Sans","color":"#4a5870","baseline":"middle"},
"encoding":{"x":{"field":"t","type":"temporal"},"y":{"datum":12042,"type":"quantitative","scale":{"domain":[10467,12025],"nice":false,"zero":false},"axis":null},"text":{"value":"공시"}}},
{"data":{"name":"n"},"transform":[{"filter":"datum.n!=''"}],
"mark":{"type":"text","fontSize":12,"font":"Open Sans","color":"#4a5870","baseline":"middle"},
"encoding":{"x":{"field":"t","type":"temporal"},"y":{"datum":12021,"type":"quantitative","scale":{"domain":[10467,12025],"nice":false,"zero":false},"axis":null},"text":{"field":"n"}}}
],
"resolve":{"scale":{"y":"independent"}}
},
{
"width":821,"height":120,
"layer":[
{"data":{"name":"v"},
"mark":{"type":"bar","width":1.3,"opacity":0.26},
"encoding":{
"x":{"field":"t","type":"temporal","scale":{"domain":[{"year":2022,"month":9,"date":30,"hours":8,"minutes":59,"seconds":30},{"year":2022,"month":9,"date":30,"hours":15,"minutes":32}],"padding":0},"axis":null},
"y":{"field":"v","type":"quantitative","scale":{"domain":[-250,76800],"nice":false,"zero":false},"axis":null},
"color":{"field":"d","type":"nominal","scale":{"domain":["u","d"],"range":["#ff0000","#0000ff"]},"legend":null}
}},
{"data":{"name":"c"},"mark":{"type":"rule","strokeWidth":1},
"encoding":{"x":{"field":"t","type":"temporal"},
"y":{"field":"l","type":"quantitative","scale":{"domain":[10458,12031],"nice":false,"zero":false},"axis":null},
"y2":{"field":"h"},
"color":{"condition":{"test":"datum.c>datum.o","value":"#ff0000"},"value":"#0000ff"}}},
{"data":{"name":"c"},"mark":{"type":"bar","width":3.6,"minBandSize":1},
"encoding":{"x":{"field":"t","type":"temporal"},
"y":{"field":"o","type":"quantitative","scale":{"domain":[10458,12031],"nice":false,"zero":false},"axis":null},"y2":{"field":"c"},
"color":{"condition":{"test":"datum.c>datum.o","value":"#ff0000"},"value":"#0000ff"}}}
],
"resolve":{"scale":{"y":"independent"}}
}
]
}
